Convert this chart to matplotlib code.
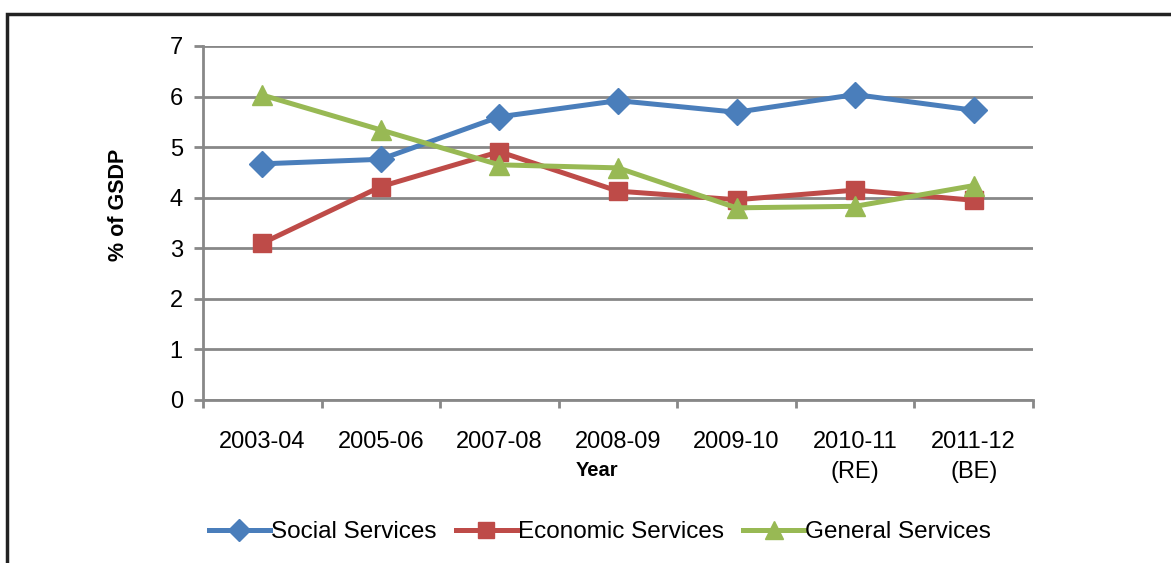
import numpy as np
import matplotlib
matplotlib.use('Agg')
import matplotlib.pyplot as plt
from matplotlib.patches import Rectangle

# DATA
years = ['2003-04', '2005-06', '2007-08', '2008-09', '2009-10', '2010-11\n(RE)', '2011-12\n(BE)']
social = [4.67, 4.76, 5.60, 5.92, 5.69, 6.04, 5.73]
economic = [3.10, 4.22, 4.91, 4.13, 3.96, 4.15, 3.95]
general = [6.03, 5.34, 4.65, 4.59, 3.80, 3.83, 4.24]
yticks = [0, 1, 2, 3, 4, 5, 6, 7]

plt.rcParams['font.family'] = ['Liberation Sans', 'DejaVu Sans']
grey = '#888888'

fig = plt.figure(figsize=(11.71, 5.63), dpi=100)
ax = fig.add_axes([203 / 1171, 1 - 400 / 563, 830 / 1171, 354 / 563])

x = np.arange(len(years))
ax.plot(x, social, color='#4A7EBB', lw=3.6, marker='D', ms=13, label='Social Services')
ax.plot(x, economic, color='#BE4B48', lw=3.6, marker='s', ms=13, label='Economic Services')
ax.plot(x, general, color='#98B954', lw=3.6, marker='^', ms=15, label='General Services')

ax.set_xlim(-0.5, len(years) - 0.5)
ax.set_ylim(0, 7)
ax.set_yticks(yticks)
ax.set_xticks(x)
ax.set_xticklabels(years, linespacing=1.5)
ax.set_xticks(np.arange(-0.5, len(years)), minor=True)
ax.tick_params(axis='x', which='major', length=0, pad=22, labelsize=17)
ax.tick_params(axis='x', which='minor', length=6, width=2, color=grey)
ax.tick_params(axis='y', length=6.5, width=2, color=grey, pad=8, labelsize=17)
ax.grid(axis='y', color=grey, lw=2)
ax.set_axisbelow(True)
for s in ['top', 'right']:
	ax.spines[s].set_visible(False)
for s in ['left', 'bottom']:
	ax.spines[s].set_color(grey)
	ax.spines[s].set_linewidth(2)

ax.set_ylabel('% of GSDP', fontsize=15.5, fontweight='bold')
ax.yaxis.set_label_coords((129 - 203) / 830, (400 - 205) / 354)
fig.text(597 / 1171, 1 - 471 / 563, 'Year', fontsize=14.5, fontweight='bold', ha='center', va='center')

fig.legend(loc='center', bbox_to_anchor=(600 / 1171, 1 - 532 / 563), ncol=3, frameon=False,
           fontsize=17.5, handlelength=2.5, handletextpad=0.05, columnspacing=0.8, markerscale=0.85)

# outer frame
fig.patches.append(Rectangle((7 / 1171, -0.1), 1.2, 1 - 14 / 563 + 0.1, transform=fig.transFigure,
                             fill=False, edgecolor='#222222', lw=2.5))

fig.savefig('out.png', dpi=100)
